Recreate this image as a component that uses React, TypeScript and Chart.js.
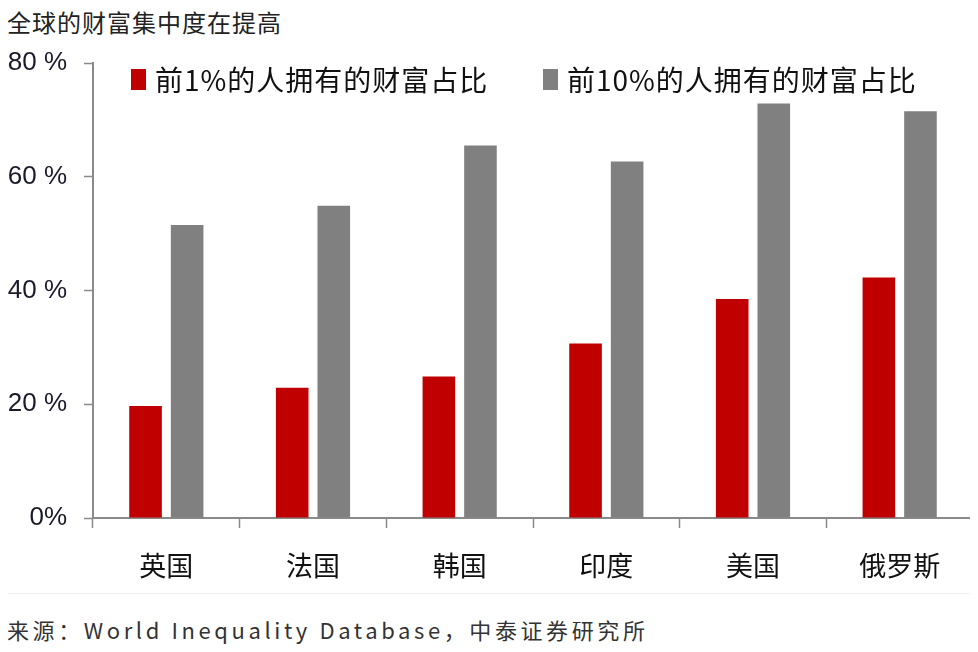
import React, { useEffect, useRef } from 'react';
import { Chart, registerables } from 'chart.js';

Chart.register(...registerables);

const countries = ['英国', '法国', '韩国', '印度', '美国', '俄罗斯'];
const seriesNames = ['前1%的人拥有的财富占比', '前10%的人拥有的财富占比'];
const top1Share = [19.7, 22.9, 24.9, 30.7, 38.5, 42.3];
const top10Share = [51.5, 54.9, 65.5, 62.7, 72.9, 71.5];
const yTickLabels = ['0%', '20 %', '40 %', '60 %', '80 %'];
const seriesColors = ['#C00000', '#808080'];

const cjkFont = '"Noto Sans CJK SC", "Noto Sans", sans-serif';
const numFont = 'Liberation Sans, Arimo, Arial, sans-serif';
const axisColor = '#8a8a8a';

const App: React.FC = () => {
  const canvasRef = useRef<HTMLCanvasElement>(null);
  const chartRef = useRef<Chart | null>(null);

  useEffect(() => {
    if (!canvasRef.current) return;
    if (chartRef.current) chartRef.current.destroy();

    chartRef.current = new Chart(canvasRef.current, {
      type: 'bar',
      data: {
        labels: countries,
        datasets: [
          {
            label: seriesNames[0],
            data: top1Share,
            backgroundColor: seriesColors[0],
            categoryPercentage: 0.567,
            barPercentage: 0.784,
          },
          {
            label: seriesNames[1],
            data: top10Share,
            backgroundColor: seriesColors[1],
            categoryPercentage: 0.567,
            barPercentage: 0.784,
          },
        ],
      },
      options: {
        responsive: false,
        animation: false,
        layout: { padding: { left: 0, top: 63, right: 5, bottom: 0 } },
        plugins: {
          legend: { display: false },
          tooltip: { enabled: false },
        },
        scales: {
          x: {
            offset: true,
            afterFit: (scale) => {
              scale.height = 82;
            },
            grid: {
              offset: true,
              drawOnChartArea: false,
              drawTicks: true,
              tickLength: 10,
              tickColor: axisColor,
              tickWidth: 1.5,
            },
            border: { color: axisColor, width: 2 },
            ticks: {
              padding: 22,
              color: '#111',
              font: { family: cjkFont, size: 27 },
            },
          },
          y: {
            min: 0,
            max: 80,
            afterFit: (scale) => {
              scale.width = 93;
            },
            grid: {
              drawOnChartArea: false,
              tickLength: 9,
              tickColor: axisColor,
              tickWidth: 1.5,
            },
            border: { color: axisColor, width: 2 },
            ticks: {
              stepSize: 20,
              padding: 17,
              color: '#1a1a2a',
              font: { family: numFont, size: 26 },
              callback: (_value, index) => yTickLabels[index],
            },
          },
        },
      },
    });

    return () => {
      if (chartRef.current) {
        chartRef.current.destroy();
        chartRef.current = null;
      }
    };
  }, []);

  const legendLeft = [131, 543];

  return (
    <div style={{ position: 'relative', width: 978, height: 652, margin: -8, background: '#fff', overflow: 'hidden' }}>
      <div
        style={{
          position: 'absolute',
          left: 7,
          top: 10,
          fontFamily: cjkFont,
          fontSize: 24,
          lineHeight: '24px',
          letterSpacing: 1,
          color: '#222',
          whiteSpace: 'nowrap',
        }}
      >
        全球的财富集中度在提高
      </div>
      <canvas ref={canvasRef} width={978} height={600} style={{ position: 'absolute', left: 0, top: 0 }} />
      {seriesNames.map((name, i) => (
        <div
          key={name}
          style={{
            position: 'absolute',
            left: legendLeft[i],
            top: 64,
            height: 30,
            display: 'flex',
            alignItems: 'center',
            whiteSpace: 'nowrap',
          }}
        >
          <span style={{ display: 'inline-block', width: 15, height: 21, background: seriesColors[i], marginRight: 9 }} />
          <span style={{ fontFamily: cjkFont, fontSize: 28, lineHeight: '30px', letterSpacing: 1, color: '#111' }}>{name}</span>
        </div>
      ))}
      <div style={{ position: 'absolute', left: 0, top: 593, width: 978, borderTop: '1px solid #f1f1f1' }} />
      <div
        style={{
          position: 'absolute',
          left: 7,
          top: 618,
          fontFamily: cjkFont,
          fontSize: 22,
          lineHeight: '22px',
          letterSpacing: 3.6,
          color: '#333',
          whiteSpace: 'nowrap',
        }}
      >
        来源：World Inequality Database，中泰证券研究所
      </div>
    </div>
  );
};

export default App;
